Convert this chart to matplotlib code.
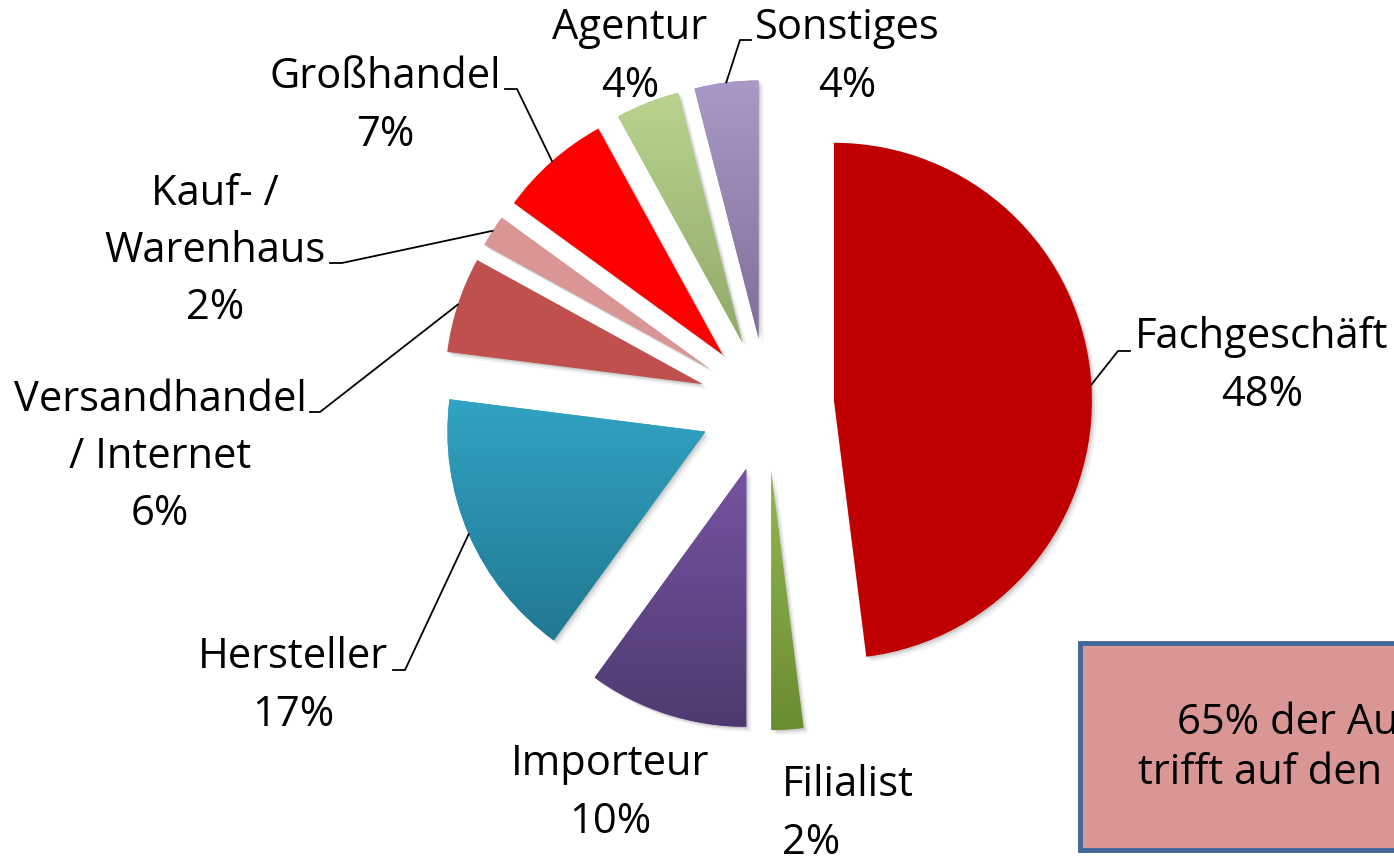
import matplotlib
matplotlib.use("Agg")
import matplotlib.pyplot as plt
import numpy as np
from matplotlib.patches import Wedge, Rectangle
from matplotlib.colors import to_rgb

plt.rcParams['font.family'] = ['Open Sans', 'DejaVu Sans']

# data
categories = ['Fachgeschäft', 'Filialist', 'Importeur', 'Hersteller',
              'Versandhandel\n/ Internet', 'Kauf- /\nWarenhaus', 'Großhandel',
              'Agentur', 'Sonstiges']
shares = [48, 2, 10, 17, 6, 2, 7, 4, 4]
# top / bottom colour of each slice (same = flat fill)
top_colors = ['#C00000', '#93B750', '#7653A2', '#31A3C3', '#C0504D',
              '#D99694', '#FF0000', '#B9D38F', '#A999C6']
bottom_colors = ['#C00000', '#6A8C31', '#4E3A6F', '#217891', '#C0504D',
                 '#D99694', '#FF0000', '#90A96A', '#7F6F98']

# layout (pixels, y downwards)
cx, cy, rad = 767, 405, 258
label_pos = [(1262, 366), (782, 814), (610, 793), (293, 686), (160, 457),
             (215, 251), (385, 106), (630, 57), (847, 57)]
label_ha = ['center', 'left', 'center', 'center', 'center', 'center',
            'center', 'center', 'center']
# elbow and end of leader line, None = no leader
leaders = [((1118, 351), (1130, 351)), None, None, ((405, 670), (393, 670)),
           ((320, 412), (310, 412)), ((342, 263), (330, 263)),
           ((517, 89), (505, 89)), None, ((740, 40), (751, 40))]

fig = plt.figure(figsize=(13.94, 8.60), dpi=100)
ax = fig.add_axes([0, 0, 1, 1])

wedges, _ = ax.pie(shares, radius=rad, center=(cx, cy), startangle=270,
                   counterclock=True, explode=[0.26 * rad] * len(shares),
                   colors=top_colors, wedgeprops=dict(linewidth=0),
                   frame=True)

for i, w in enumerate(wedges):
    w.set_zorder(2)
    # soft shadow
    for k, a in [(5, 0.05), (3, 0.07), (1.5, 0.09)]:
        sh = Wedge((w.center[0] + k, w.center[1] + k), w.r, w.theta1, w.theta2,
                   color='#000000', alpha=a, linewidth=0, zorder=1)
        ax.add_patch(sh)
    if top_colors[i] != bottom_colors[i]:
        bb = w.get_path().get_extents().transformed(w.get_patch_transform())
        t = np.array(to_rgb(top_colors[i]))
        b = np.array(to_rgb(bottom_colors[i]))
        f = np.linspace(0, 1, 200)[:, None, None]
        img = t[None, None, :] * (1 - f) + b[None, None, :] * f
        im = ax.imshow(img, extent=(bb.x0, bb.x1, bb.y1, bb.y0), origin='upper',
                       aspect='auto', zorder=3, interpolation='bilinear')
        im.set_clip_path(w)

ax.set_xlim(0, 1394)
ax.set_ylim(860, 0)
ax.axis('off')

for i, w in enumerate(wedges):
    txt = categories[i] + '\n' + str(shares[i]) + '%'
    ax.text(label_pos[i][0], label_pos[i][1], txt, ha=label_ha[i], va='center',
            multialignment=label_ha[i], fontsize=30, linespacing=1.47, zorder=5)
    if leaders[i] is not None:
        mid = np.deg2rad((w.theta1 + w.theta2) / 2)
        ax0 = w.center[0] + w.r * np.cos(mid)
        ay0 = w.center[1] + w.r * np.sin(mid)
        (ex, ey), (tx, ty) = leaders[i]
        ax.plot([ax0, ex, tx], [ay0, ey, ty], color='black', lw=1.3, zorder=4)

# note box, cut at the right edge
ax.add_patch(Rectangle((1080, 643), 400, 207, facecolor='#D99694',
                       edgecolor='#41679A', linewidth=3.5, zorder=5,
                       clip_on=False))
ax.text(1177, 723, '65% der Au', ha='left', va='center', fontsize=30, zorder=6)
ax.text(1138, 773, 'trifft auf den', ha='left', va='center', fontsize=30, zorder=6)

fig.savefig('out.png', dpi=100)
